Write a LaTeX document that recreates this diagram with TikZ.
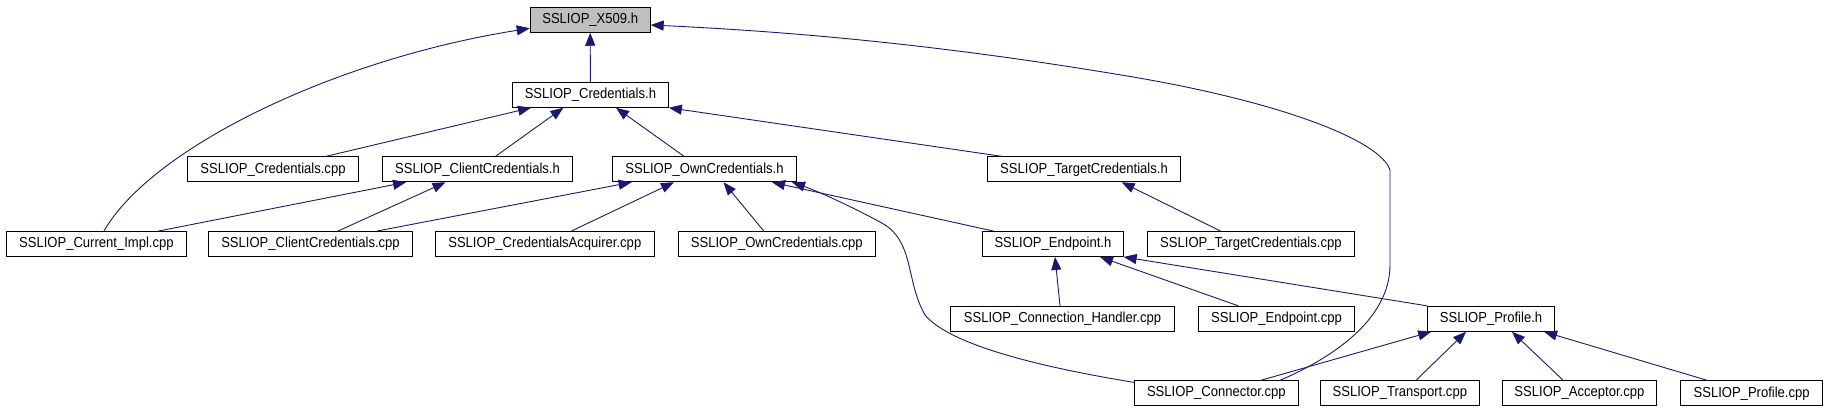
\documentclass[tikz,border=0pt]{standalone}
\usepackage{fontspec}
\newfontfamily\nodefont{Liberation Sans}[FakeStretch=0.9]
\usetikzlibrary{arrows.meta}
\definecolor{edgeblue}{HTML}{191970}
\definecolor{boxgray}{HTML}{BFBFBF}
\begin{document}
\begin{tikzpicture}[x=1pt,y=-1pt,
  box/.style={draw=black,line width=0.9pt,inner sep=0pt,minimum height=25pt,font=\nodefont\fontsize{14.5}{16}\selectfont},
  edge/.style={draw=edgeblue,line width=0.9pt,-{Triangle[length=13pt,width=10pt]}}]
\useasboundingbox (0,0) rectangle (1827,411);
% nodes
\node[box,fill=boxgray,minimum width=120] (x509) at (590.2,19.8) {SSLIOP\_X509.h};
\node[box,minimum width=156] (credh) at (590.4,94.8) {SSLIOP\_Credentials.h};
\node[box,minimum width=171] (credcpp) at (273,169.3) {SSLIOP\_Credentials.cpp};
\node[box,minimum width=190] (clih) at (477.5,169.3) {SSLIOP\_ClientCredentials.h};
\node[box,minimum width=184] (ownh) at (704.5,169.3) {SSLIOP\_OwnCredentials.h};
\node[box,minimum width=193] (tgth) at (1084,169.3) {SSLIOP\_TargetCredentials.h};
\node[box,minimum width=180.4] (cur) at (96.4,244) {SSLIOP\_Current\_Impl.cpp};
\node[box,minimum width=204] (clicpp) at (310.5,244) {SSLIOP\_ClientCredentials.cpp};
\node[box,minimum width=219.2] (acq) at (544.8,244) {SSLIOP\_CredentialsAcquirer.cpp};
\node[box,minimum width=196.4] (owncpp) at (776.8,244) {SSLIOP\_OwnCredentials.cpp};
\node[box,minimum width=140.6] (eph) at (1052.9,244) {SSLIOP\_Endpoint.h};
\node[box,minimum width=207] (tgtcpp) at (1250.9,244) {SSLIOP\_TargetCredentials.cpp};
\node[box,minimum width=224] (hdl) at (1062.5,318.8) {SSLIOP\_Connection\_Handler.cpp};
\node[box,minimum width=155.8] (epcpp) at (1276.5,318.8) {SSLIOP\_Endpoint.cpp};
\node[box,minimum width=126.8] (profh) at (1491,318.8) {SSLIOP\_Profile.h};
\node[box,minimum width=164] (conn) at (1216.3,393.3) {SSLIOP\_Connector.cpp};
\node[box,minimum width=158.8] (trans) at (1399.8,393.3) {SSLIOP\_Transport.cpp};
\node[box,minimum width=154] (acc) at (1579.4,393.3) {SSLIOP\_Acceptor.cpp};
\node[box,minimum width=142.4] (profcpp) at (1751.6,393.3) {SSLIOP\_Profile.cpp};
% edges (child -> parent)
\draw[edge] (credh.north) -- (x509.south);
\draw[edge] ([xshift=7.6]cur.north) .. controls (150,150) and (330,60) .. ([yshift=-8.5]x509.west);
\draw[edge] ([xshift=63.7]conn.north) .. controls (1350,350) and (1390,310) .. (1390,265) -- (1390,170) .. controls (1380,140) and (1280,102) .. (1133,77) .. controls (950,46) and (800,32) .. ([yshift=-5.2]x509.east);
\draw[edge] ([xshift=53]credcpp.north) -- ([xshift=-59.4]credh.south);
\draw[edge] ([xshift=18]clih.north) -- ([xshift=-27]credh.south);
\draw[edge] ([xshift=-20.5]ownh.north) -- ([xshift=25.6]credh.south);
\draw[edge] ([xshift=-82.2]tgth.north) -- (credh.south east);
\draw[edge] ([xshift=62.1]cur.north) -- ([xshift=-71.5]clih.south);
\draw[edge] ([xshift=27.5]clicpp.north) -- ([xshift=-32]clih.south);
\draw[edge] ([xshift=66.5]clicpp.north) -- ([xshift=-72.9]ownh.south);
\draw[edge] ([xshift=26.6]acq.north) -- ([xshift=-30.5]ownh.south);
\draw[edge] ([xshift=-13]owncpp.north) -- ([xshift=19]ownh.south);
\draw[edge] ([xshift=-59.6]eph.north) -- ([xshift=67.5]ownh.south);
\draw[edge] ([yshift=-2]conn.north west) .. controls (1040,367) and (950,345) .. (925,315) .. controls (905,280) and (915,240) .. (880,222) .. controls (850,206) and (820,192) .. ([xshift=87.5]ownh.south);
\draw[edge] ([xshift=-30.4]tgtcpp.north) -- ([xshift=37.7]tgth.south);
\draw[edge] ([xshift=-2.5]hdl.north) -- ([xshift=2.1]eph.south);
\draw[edge] ([xshift=-38.2]epcpp.north) -- ([xshift=47.1]eph.south);
\draw[edge] (profh.north west) -- (eph.south east);
\draw[edge] ([xshift=44.4]conn.north) -- ([xshift=4]profh.south west);
\draw[edge] ([xshift=16.2]trans.north) -- ([xshift=-25]profh.south);
\draw[edge] ([xshift=-16.2]acc.north) -- ([xshift=21]profh.south);
\draw[edge] ([xshift=-44.4]profcpp.north) -- ([xshift=53]profh.south);
\end{tikzpicture}
\end{document}
